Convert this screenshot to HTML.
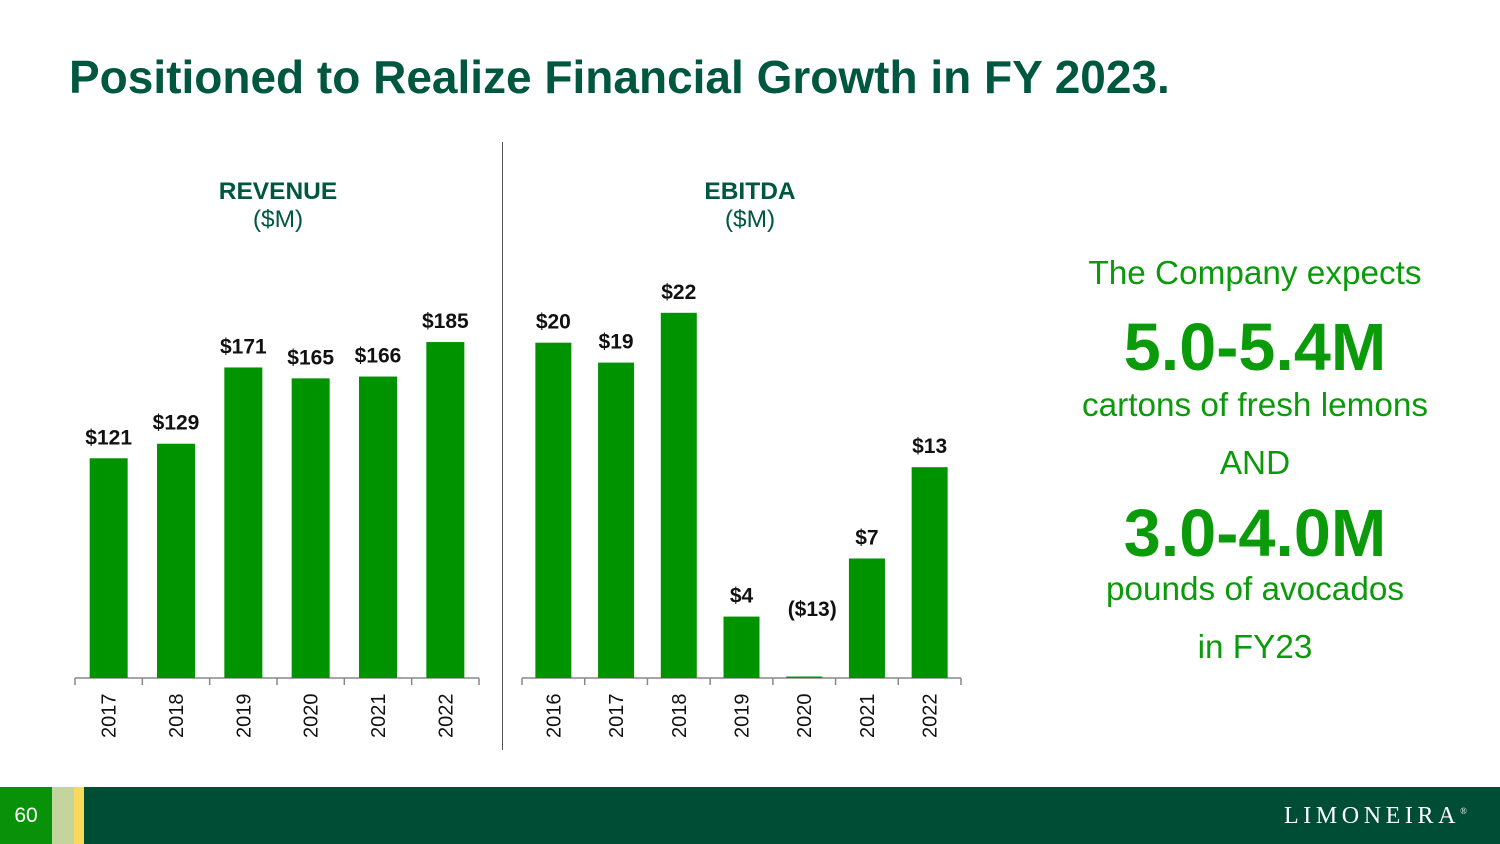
<!DOCTYPE html>
<html><head><meta charset="utf-8">
<style>
body{margin:0;width:1500px;height:844px;overflow:hidden;background:#fff;font-family:"Liberation Sans",Arial,sans-serif;position:relative}
.abs{position:absolute}
.title{left:69px;top:50px;font-size:46px;font-weight:bold;color:#00573f}
.ct{font-size:24.5px;color:#00573f;text-align:center;width:300px}
.rt{left:1030px;width:450px;text-align:center;color:#0a9a0a}
</style></head><body>
<div class="abs title">Positioned to Realize Financial Growth in FY 2023.</div>
<div class="abs ct" style="left:128px;top:178px"><b>REVENUE</b><br>($M)</div>
<div class="abs ct" style="left:600px;top:178px"><b>EBITDA</b><br>($M)</div>
<div class="abs" style="left:502px;top:142px;width:1px;height:608px;background:#555"></div>
<svg class="abs" style="left:0;top:0" width="1500" height="844" id="chart"></svg>
<div class="abs rt" style="top:255px;font-size:33.3px">The Company expects</div>
<div class="abs rt" style="top:310px;font-size:66.5px;font-weight:bold">5.0-5.4M</div>
<div class="abs rt" style="top:387px;font-size:33.3px">cartons of fresh lemons</div>
<div class="abs rt" style="top:445px;font-size:33.3px">AND</div>
<div class="abs rt" style="top:496px;font-size:66.5px;font-weight:bold">3.0-4.0M</div>
<div class="abs rt" style="top:571px;font-size:33.3px">pounds of avocados</div>
<div class="abs rt" style="top:629px;font-size:33.3px">in FY23</div>
<div class="abs" style="left:0;top:787px;width:1500px;height:57px;background:#004d36"></div>
<div class="abs" style="left:0;top:787px;width:52px;height:57px;background:#099209;color:#fff;font-size:21px;line-height:57px;text-align:center">60</div>
<div class="abs" style="left:52px;top:787px;width:22px;height:57px;background:#c3d49c"></div>
<div class="abs" style="left:74px;top:787px;width:10px;height:57px;background:#f8d95c"></div>
<div class="abs" style="left:1284px;top:803px;color:#fff;font-family:'Liberation Serif',serif;font-size:24px;letter-spacing:4.6px">LIMONEIRA<sup style="font-size:9px">®</sup></div>
<script>
const revCats=["2017","2018","2019","2020","2021","2022"];
const revVals=[121,129,171,165,166,185];
const revLabels=["$121","$129","$171","$165","$166","$185"];
const ebCats=["2016","2017","2018","2019","2020","2021","2022"];
const ebVals=[20.2,19.0,22.0,3.7,0,7.2,12.7];
const ebLabels=["$20","$19","$22","$4","($13)","$7","$13"];
const svg=document.getElementById('chart');
const NS="http://www.w3.org/2000/svg";
function mk(t,a){const e=document.createElementNS(NS,t);for(const k in a)e.setAttribute(k,a[k]);svg.appendChild(e);return e;}
function draw(cats,vals,labels,x0,x1,base,scale,bw,prefix){
  const cw=(x1-x0)/cats.length;
  const ax=mk('line',{x1:x0,x2:x1,y1:base,y2:base,stroke:'#888','stroke-width':1.5});
  
  
  for(let i=0;i<=cats.length;i++){
    const t=mk('line',{x1:x0+i*cw,x2:x0+i*cw,y1:base,y2:base+7,stroke:'#888','stroke-width':1.5});
    
    
  }
  cats.forEach((c,i)=>{
    const cx=x0+(i+0.5)*cw;
    const h=Math.max(vals[i]*scale,1.5);
    const r=mk('rect',{x:cx-bw/2,y:base-h,width:bw,height:h,fill:'#009300'});
    
    
    const lx=vals[i]>0?cx:cx+8;
    const ly=vals[i]>0?base-h-14:base-62;
    const l=mk('text',{x:lx,y:ly,'text-anchor':'middle','font-size':21,'font-weight':'bold',fill:'#111','font-family':'Liberation Sans, sans-serif'});
    l.textContent=labels[i];
    
    
    const y=mk('text',{x:0,y:0,transform:`translate(${cx+7},${base+60}) rotate(-90)`,'text-anchor':'start','font-size':20,fill:'#111','font-family':'Liberation Sans, sans-serif'});
    y.textContent=c;
    
    
  });
}
draw(revCats,revVals,revLabels,75,479,678,1.816,38,'revenue');
draw(ebCats,ebVals,ebLabels,522,961,678,16.6,36,'ebitda');
</script>
</body></html>
